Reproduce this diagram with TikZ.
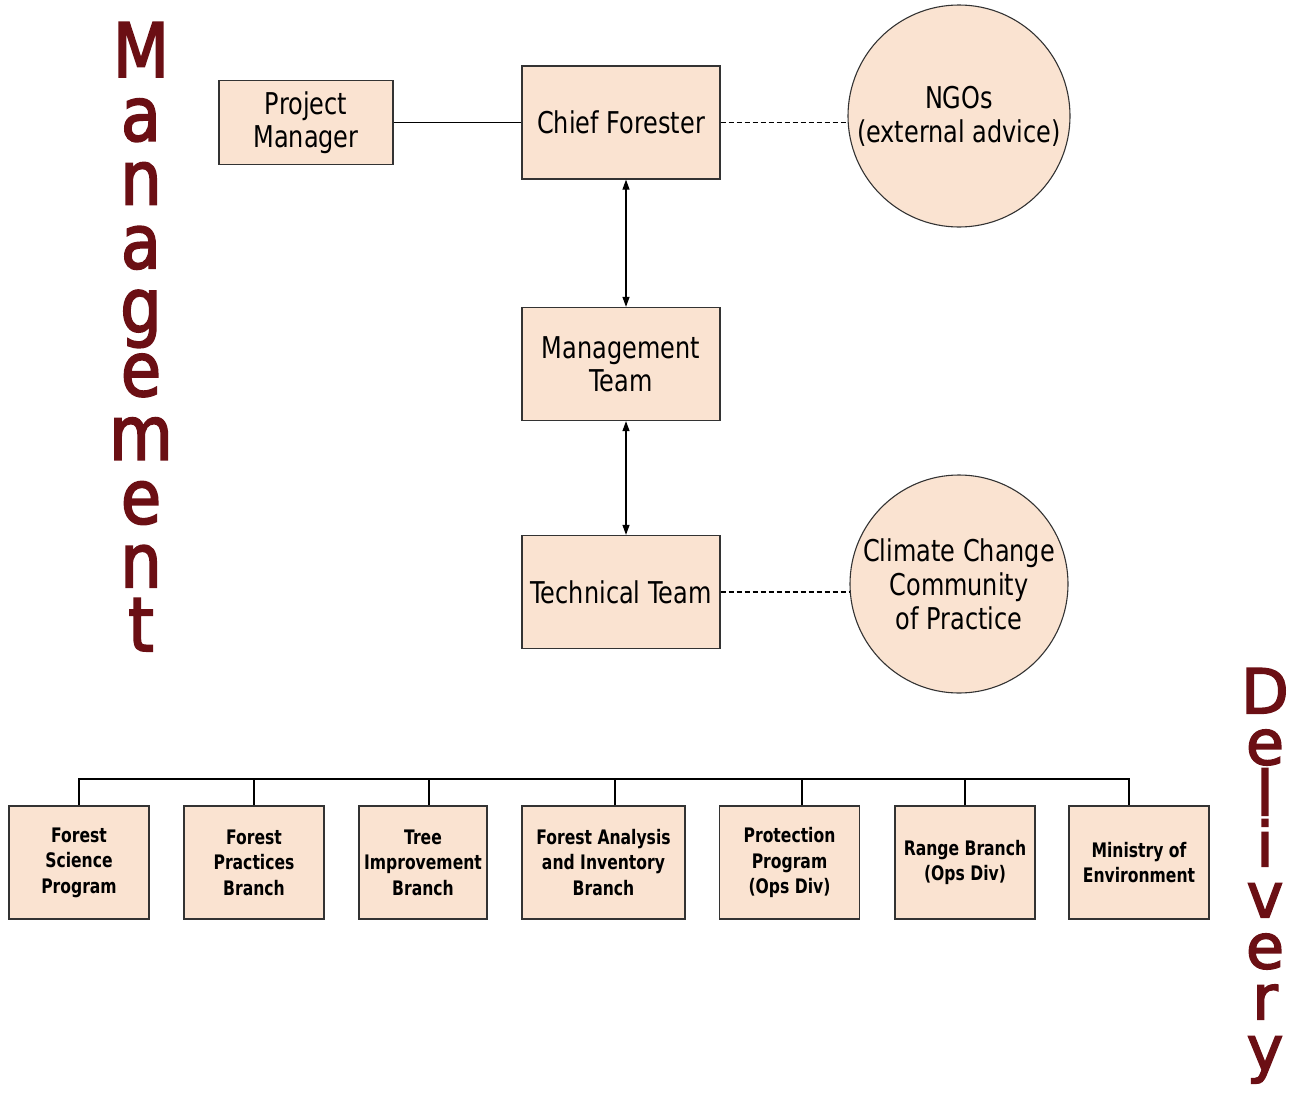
\documentclass[tikz,border=0pt]{standalone}
\usepackage{fontspec}
\setmainfont{DejaVu Sans}
\newfontfamily\boxfont[FakeStretch=0.8]{DejaVu Sans}
\newfontfamily\smallfont[FakeStretch=0.78]{DejaVu Sans}
\newfontfamily\bigfont[FakeStretch=0.87,FakeBold=2.5]{DejaVu Sans}
\newfontfamily\bigwidefont[FakeBold=2.5]{DejaVu Sans}
\newcommand\tightlines{\lineskiplimit=-1000pt\relax}
\usetikzlibrary{arrows.meta}
\definecolor{peach}{HTML}{FAE3D1}
\definecolor{edgegray}{HTML}{333333}
\definecolor{maroon}{HTML}{6B0F14}
\begin{document}
\begin{tikzpicture}[x=1pt,y=-1pt,
  mainbox/.style={draw=edgegray, fill=peach, line width=1.3pt, minimum width=198pt, minimum height=113pt,
    inner sep=0pt, align=center, text=black, font=\boxfont\fontsize{30}{33}\selectfont},
  roundnode/.style={draw=edgegray, fill=peach, line width=1.1pt, circle, minimum size=220pt,
    inner sep=0pt, align=center, text=black, font=\boxfont\fontsize{30}{34}\selectfont},
  unitbox/.style={draw=edgegray, fill=peach, line width=1.3pt, minimum width=140pt, minimum height=113pt,
    inner sep=0pt, align=center, text=black, font=\smallfont\bfseries\fontsize{20}{25.5}\selectfont},
  link/.style={draw=black, line width=1.2pt},
  dashlink/.style={draw=black, line width=1.1pt, dash pattern=on 5pt off 3pt},
  twoway/.style={draw=black, line width=1.2pt, {Triangle[length=10pt,width=7pt]}-{Triangle[length=10pt,width=7pt]}},
  sideword/.style={anchor=north, inner sep=0pt, align=center, text=maroon}
]
\useasboundingbox (0,0) rectangle (1298,1092);

% side words
\node[sideword, font=\bigfont\fontsize{75}{63.8}\selectfont\tightlines] (mgmt) at (141,22)
  {M\\a\\n\\a\\g\\e\\m\\e\\n\\t};
\node[sideword, font=\bigwidefont\fontsize{62}{51}\selectfont\tightlines] (deliv) at (1265,668)
  {D\\e\\l\\i\\v\\e\\r\\y};

% management nodes
\node[mainbox, minimum width=174pt, minimum height=84pt] (pm) at (306,122.5) {Project\\Manager};
\node[mainbox] (cf) at (621,122.5) {Chief Forester};
\node[roundnode, minimum size=222pt] (ngo) at (959,116) {NGOs\\(external advice)};
\node[mainbox] (mt) at (621,364) {Management\\Team};
\node[mainbox] (tt) at (621,592) {Technical Team};
\node[roundnode, minimum size=218pt] (cc) at (959,584) {Climate Change\\Community\\of Practice};

\draw[link] (pm.east) -- (cf.west);
\draw[dashlink] (cf.east) -- (cf.east -| ngo.west);
\draw[twoway] ([xshift=5pt]cf.south) -- ([xshift=5pt]mt.north);
\draw[twoway] ([xshift=5pt]mt.south) -- ([xshift=5pt]tt.north);
\draw[dashlink] (tt.east) -- (tt.east -| cc.west);

% delivery units
\node[unitbox] (u1) at (79,862.5) {Forest\\Science\\Program};
\node[unitbox] (u2) at (254,862.5) {Forest\\Practices\\Branch};
\node[unitbox, minimum width=128pt] (u3) at (423,862.5) {Tree\\Improvement\\Branch};
\node[unitbox, minimum width=163pt] (u4) at (603.5,862.5) {Forest Analysis\\and Inventory\\Branch};
\node[unitbox] (u5) at (789.5,862.5) {Protection\\Program\\(Ops Div)};
\node[unitbox] (u6) at (965,862.5) {Range Branch\\(Ops Div)};
\node[unitbox] (u7) at (1139,862.5) {Ministry of\\Environment};

\coordinate (bar) at (79,779);
\draw[link] (u1.north) -- (u1.north |- bar) -- ([xshift=-10pt]u7.north |- bar) -- ([xshift=-10pt]u7.north);
\draw[link] (u2.north) -- (u2.north |- bar);
\draw[link] ([xshift=6pt]u3.north) -- ([xshift=6pt]u3.north |- bar);
\draw[link] ([xshift=11.5pt]u4.north) -- ([xshift=11.5pt]u4.north |- bar);
\draw[link] ([xshift=12.5pt]u5.north) -- ([xshift=12.5pt]u5.north |- bar);
\draw[link] (u6.north) -- (u6.north |- bar);
\end{tikzpicture}
\end{document}
